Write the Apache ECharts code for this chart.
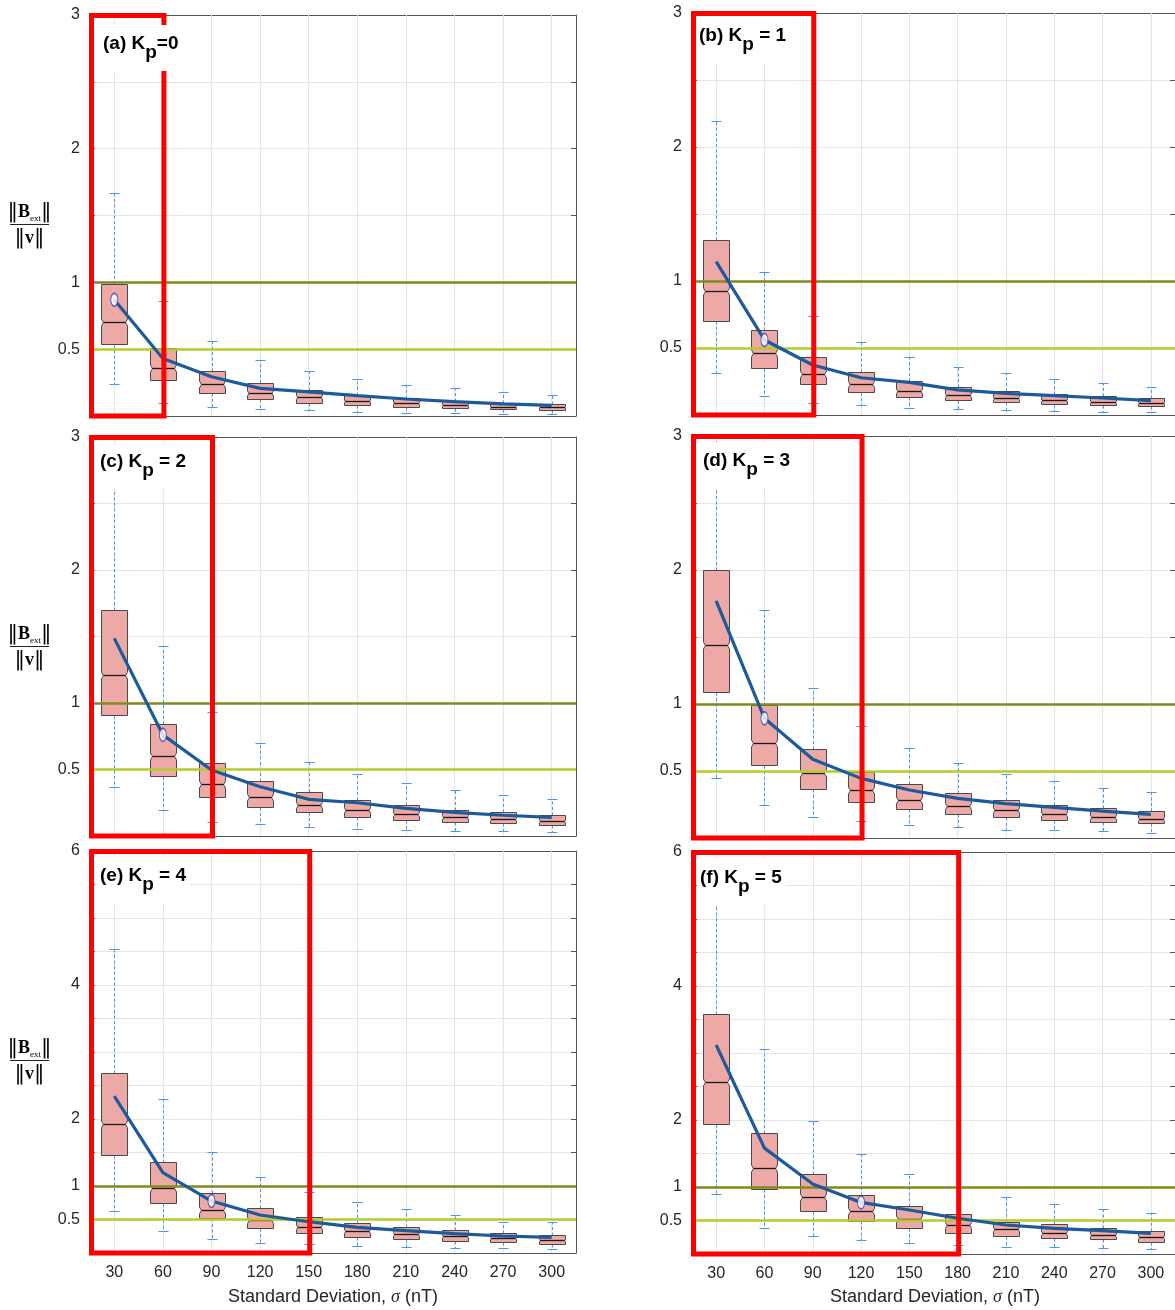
<!DOCTYPE html>
<html>
<head>
<meta charset="utf-8">
<script src="https://cdn.jsdelivr.net/npm/echarts@6/dist/echarts.min.js"></script>
<style>
html,body{margin:0;padding:0;background:#fff;}
#c{width:1175px;height:1310px;}
</style>
</head>
<body>
<div id="c"></div>
<script>
// ---------------- DATA ----------------
const categories = ['30','60','90','120','150','180','210','240','270','300'];

// box stats per category: [lower whisker, Q1, median, Q3, upper whisker]
const statsA = [[0.24,0.54,0.706,0.99,1.67],[0.10,0.27,0.357,0.507,0.86],[0.07,0.175,0.237,0.337,0.564],[0.05,0.127,0.17,0.245,0.42],[0.043,0.10,0.145,0.195,0.335],[0.03,0.08,0.115,0.16,0.277],[0.022,0.07,0.095,0.137,0.235],[0.02,0.057,0.085,0.115,0.207],[0.015,0.05,0.07,0.10,0.18],[0.013,0.045,0.07,0.092,0.16]];
const statsB = [[0.31,0.70,0.928,1.306,2.196],[0.144,0.348,0.46,0.634,1.065],[0.087,0.23,0.306,0.43,0.739],[0.075,0.17,0.229,0.319,0.543],[0.052,0.137,0.179,0.256,0.435],[0.042,0.112,0.149,0.211,0.356],[0.037,0.095,0.129,0.181,0.311],[0.03,0.082,0.112,0.157,0.271],[0.025,0.072,0.10,0.142,0.241],[0.02,0.065,0.09,0.125,0.211]];
const statsC = [[0.37,0.91,1.21,1.70,2.88],[0.195,0.45,0.60,0.842,1.43],[0.108,0.296,0.39,0.55,0.935],[0.088,0.22,0.296,0.414,0.70],[0.07,0.178,0.235,0.33,0.56],[0.053,0.14,0.195,0.271,0.468],[0.048,0.12,0.165,0.23,0.398],[0.04,0.105,0.14,0.198,0.343],[0.038,0.095,0.125,0.18,0.306],[0.028,0.083,0.115,0.16,0.276]];
const statsD = [[0.45,1.092,1.44,2.0,3.3],[0.246,0.545,0.711,0.99,1.70],[0.154,0.363,0.483,0.662,1.117],[0.13,0.271,0.358,0.495,0.836],[0.095,0.216,0.284,0.40,0.669],[0.082,0.179,0.239,0.336,0.561],[0.06,0.154,0.206,0.284,0.48],[0.062,0.134,0.179,0.25,0.425],[0.055,0.122,0.159,0.221,0.376],[0.04,0.11,0.144,0.204,0.341]];
const statsE = [[0.62,1.46,1.92,2.69,4.53],[0.333,0.74,0.966,1.36,2.30],[0.21,0.518,0.642,0.89,1.51],[0.154,0.368,0.49,0.672,1.13],[0.13,0.294,0.393,0.537,0.915],[0.109,0.243,0.328,0.448,0.757],[0.09,0.209,0.284,0.388,0.652],[0.075,0.184,0.249,0.338,0.567],[0.07,0.16,0.219,0.299,0.468],[0.06,0.139,0.194,0.269,0.463]];
const statsF = [[0.90,1.94,2.57,3.58,5.9],[0.384,0.966,1.28,1.80,3.06],[0.274,0.647,0.846,1.19,1.99],[0.209,0.497,0.647,0.88,1.49],[0.169,0.383,0.517,0.716,1.20],[0.134,0.318,0.433,0.592,1.0],[0.109,0.274,0.368,0.473,0.855],[0.10,0.239,0.318,0.443,0.746],[0.095,0.219,0.289,0.393,0.667],[0.07,0.184,0.254,0.348,0.607]];

// mean curves
const meanA = [0.87,0.43,0.294,0.207,0.18,0.152,0.127,0.107,0.09,0.08];
const meanB = [1.144,0.56,0.373,0.278,0.244,0.187,0.162,0.144,0.127,0.107];
const meanC = [1.486,0.76,0.496,0.37,0.276,0.25,0.208,0.178,0.156,0.14];
const meanD = [1.77,0.893,0.587,0.445,0.358,0.296,0.256,0.228,0.20,0.177];
const meanE = [2.34,1.20,0.776,0.567,0.467,0.383,0.333,0.288,0.254,0.234];
const meanF = [3.12,1.58,1.045,0.77,0.657,0.533,0.433,0.383,0.348,0.309];

// index of the highlighted (white ellipse) point in each panel
const markerIndex = [0,1,1,1,2,3];
// category index at which each red highlight frame ends
const highlightEnd = [1,2,2,3,4,5];
// reference levels
const refLevels = [1, 0.5];
// y tick labels
const yLabelsSmall = [0.5,1,2,3];
const yLabelsLarge = [0.5,1,2,4,6];
const yMaxSmall = 3, yMaxLarge = 6;
const panelLetters = ['(a)','(b)','(c)','(d)','(e)','(f)'];
const kpLabels = ['=0',' = 1',' = 2',' = 3',' = 4',' = 5'];
const xAxisTitle = ['Standard Deviation, ','σ',' (nT)'];

// ---------------- STYLE / LAYOUT ----------------
const FONT = '"Liberation Sans", Arial, Helvetica, sans-serif';
const SERIF = '"Liberation Serif", "Times New Roman", serif';
const BARFONT = '"DejaVu Serif", "Liberation Serif", serif';
const AX = '#555555';
const GRID = '#e4e4e4';
const BOX_FILL = '#eda9a6';
const BOX_EDGE = '#4a4a4a';
const WHISK = '#4a95ee';
const MEAN = '#1c5a9c';
const OLIVE = '#7f8c1d';
const YGREEN = '#b6cb2a';
const PW = 486;
const layouts = [
  {left:90, top:15, height:401, tx:103, ty:34},
  {left:692, top:13, height:402, tx:699, ty:26},
  {left:90, top:437, height:399, tx:100, ty:452},
  {left:692, top:436, height:402, tx:703, ty:451},
  {left:90, top:851, height:402, tx:100, ty:866},
  {left:692, top:852, height:402, tx:700, ty:868}
];
const allStats = [statsA,statsB,statsC,statsD,statsE,statsF];
const allMeans = [meanA,meanB,meanC,meanD,meanE,meanF];

const chart = echarts.init(document.getElementById('c'));

const grids=[], xAxes=[], yAxes=[], series=[];
const snap = v => Math.round(v) + 0.5;

function makeBoxRender(yMax){
  return function(params, api){
    const idx = api.value(0);
    const lo = api.value(1), q1 = api.value(2), med = api.value(3), q3 = api.value(4), hi = api.value(5);
    const band = api.size([1,0])[0];
    const hw = Math.round(band*0.26);
    const pm = api.coord([idx, med]);
    const x = snap(pm[0]), ym = snap(pm[1]);
    const y1 = snap(api.coord([idx, q1])[1]);
    const y3 = snap(api.coord([idx, q3])[1]);
    const yl = snap(api.coord([idx, lo])[1]);
    const yh = snap(api.coord([idx, Math.min(hi, yMax)])[1]);
    const nd = Math.min(3.5, (y1-y3)*0.16), nk = nd*0.55, cw = 5;
    const children = [
      {type:'line', shape:{x1:x,y1:y3,x2:x,y2:yh}, style:{stroke: WHISK, lineWidth: 1, lineDash: [3,2.5], fill: null}},
      {type:'line', shape:{x1:x,y1:y1,x2:x,y2:yl}, style:{stroke: WHISK, lineWidth: 1, lineDash: [3,2.5], fill: null}},
      {type:'line', shape:{x1:x-cw,y1:yl,x2:x+cw,y2:yl}, style:{stroke: WHISK, lineWidth: 1, fill: null}}
    ];
    if (hi <= yMax) children.push({type:'line', shape:{x1:x-cw,y1:yh,x2:x+cw,y2:yh}, style:{stroke: WHISK, lineWidth: 1, fill: null}});
    const L = x-hw, R = x+hw;
    children.push({type:'polygon', shape:{points:[[L,y3],[R,y3],[R,ym-nd],[R-nk,ym],[R,ym+nd],[R,y1],[L,y1],[L,ym+nd],[L+nk,ym],[L,ym-nd]]},
      style:{fill:BOX_FILL, stroke:BOX_EDGE, lineWidth:1}});
    children.push({type:'line', shape:{x1:L+nk,y1:ym,x2:R-nk,y2:ym}, style:{stroke:'#1a1a1a', lineWidth:1.3}});
    return {type:'group', children};
  };
}

layouts.forEach((L, i) => {
  const large = i >= 4;
  const yMax = large ? yMaxLarge : yMaxSmall;
  const labels = large ? yLabelsLarge : yLabelsSmall;
  grids.push({left:L.left, top:L.top, width:PW, height:L.height, containLabel:false});
  const axLine = {show:true, onZero:false, lineStyle:{color:AX, width:1}};
  const axTick = {show:true, inside:true, alignWithLabel:true, length:5, lineStyle:{color:AX, width:1}};
  xAxes.push({gridIndex:i, type:'category', data:categories, boundaryGap:true, position:'bottom',
    axisLine:axLine, axisTick:axTick,
    axisLabel:{show:large, interval:0, margin:12, color:'#262626', fontSize:16, fontFamily:FONT},
    splitLine:{show:false}});
  xAxes.push({gridIndex:i, type:'category', data:categories, boundaryGap:true, position:'top',
    axisLine:axLine, axisTick:axTick, axisLabel:{show:false}, splitLine:{show:false}});
  yAxes.push({gridIndex:i, type:'value', min:0, max:yMax, interval:0.5, position:'left',
    axisLine:axLine, axisTick:{show:true, inside:true, length:5, lineStyle:{color:AX}},
    axisLabel:{show:true, margin:10, color:'#262626', fontSize:16, fontFamily:FONT, showMinLabel:true, showMaxLabel:true,
      formatter:(v)=> labels.some(t=>Math.abs(t-v)<1e-9) ? String(v) : ''},
    splitLine:{show:true, lineStyle:{color:GRID, width:1}}});
  yAxes.push({gridIndex:i, type:'value', min:0, max:yMax, interval:0.5, position:'right',
    axisLine:axLine, axisTick:{show:true, inside:true, length:5, lineStyle:{color:AX}},
    axisLabel:{show:false}, splitLine:{show:false}});
  const xi = 2*i, yi = 2*i;
  // vertical grid lines at category centres
  series.push({type:'line', xAxisIndex:xi, yAxisIndex:yi, data:[], z:1, silent:true,
    markLine:{z:1, silent:true, symbol:['none','none'], label:{show:false}, animation:false,
      lineStyle:{color:GRID, type:'solid', width:1},
      data: categories.map(c=>({xAxis:c}))}});
  // boxes
  series.push({type:'custom', xAxisIndex:xi, yAxisIndex:yi, z:3, silent:true,
    renderItem: makeBoxRender(yMax),
    encode:{x:0, y:[1,2,3,4,5]},
    data: allStats[i].map((s,k)=>[k].concat(s))});
  // reference lines
  series.push({type:'line', xAxisIndex:xi, yAxisIndex:yi, data:[], z:4, silent:true,
    markLine:{z:4, silent:true, symbol:['none','none'], label:{show:false}, animation:false,
      data: refLevels.map((v,k)=>({yAxis:v, lineStyle:{color: k===0?OLIVE:YGREEN, width:2.5, type:'solid'}}))}});
  // mean curve
  series.push({type:'line', xAxisIndex:xi, yAxisIndex:yi, data:allMeans[i], z:5, silent:true,
    symbol:'none', lineStyle:{color:MEAN, width:3.2}, smooth:false});
  // highlighted point
  const mi = markerIndex[i];
  series.push({type:'scatter', xAxisIndex:xi, yAxisIndex:yi, z:6, silent:true,
    data:[[mi, allMeans[i][mi]]], symbol:'circle', symbolSize:[7,13],
    itemStyle:{color:'#ffffff', borderColor:'#2a3fb8', borderWidth:1.2}});
});

chart.setOption({
  animation:false,
  backgroundColor:'#ffffff',
  grid:grids, xAxis:xAxes, yAxis:yAxes, series:series
});

// ---------- annotations ----------
const graphics = [];
layouts.forEach((L, i) => {
  const finder = {xAxisIndex:2*i, yAxisIndex:2*i};
  const yMax = i>=4 ? yMaxLarge : yMaxSmall;
  const p0 = chart.convertToPixel(finder, [0, yMax]);
  const p1 = chart.convertToPixel(finder, [1, 0]);
  const pe = chart.convertToPixel(finder, [highlightEnd[i], 0]);
  const band = p1[0]-p0[0];
  const x0 = p0[0]-band/2 + 1.5, y0 = p0[1] + 0.5, x1 = pe[0] + 1, y1 = p1[1];
  graphics.push({type:'rect', z:100, silent:true,
    shape:{x:x0, y:y0, width:x1-x0, height:y1-y0},
    style:{fill:'none', stroke:'#ff0000', lineWidth:5}});
  // panel title
  graphics.push({type:'text', z:110, silent:true, x:L.tx-3, y:L.ty-9,
    style:{text:'{t|'+panelLetters[i]+' K}{p|p}{t|'+kpLabels[i]+'}',
      backgroundColor:'#ffffff', padding:[9,4,0,3],
      rich:{
        t:{font:'bold 19px '+FONT, fill:'#000', lineHeight:21, verticalAlign:'top'},
        p:{font:'bold 19px '+FONT, fill:'#000', lineHeight:37, verticalAlign:'middle'}
      }}});
  // y-axis label fraction (left column)
  if (i % 2 === 0) {
    const cx = 29.5, top = L.top;
    graphics.push({type:'text', z:110, silent:true, x:cx, y:top+197,
      style:{text:'{bar|‖}{n|B}{s|ext}{bar|‖}', align:'center', verticalAlign:'middle', textAlign:'center', textVerticalAlign:'middle',
        rich:{
          bar:{font:'21px '+BARFONT, fill:'#000', lineHeight:22, verticalAlign:'middle'},
          n:{font:'bold 18px '+SERIF, fill:'#000', lineHeight:22, verticalAlign:'middle'},
          s:{font:'9px '+SERIF, fill:'#000', lineHeight:12, verticalAlign:'bottom'}
        }}});
    graphics.push({type:'line', z:110, silent:true, shape:{x1:10, y1:top+209.5, x2:49, y2:top+209.5},
      style:{stroke:'#222', lineWidth:1.2}});
    graphics.push({type:'text', z:110, silent:true, x:cx, y:top+223,
      style:{text:'{bar|‖}{n|v}{bar|‖}', align:'center', verticalAlign:'middle', textAlign:'center', textVerticalAlign:'middle',
        rich:{
          bar:{font:'21px '+BARFONT, fill:'#000', lineHeight:22, verticalAlign:'middle'},
          n:{font:'bold 18px '+SERIF, fill:'#000', lineHeight:22, verticalAlign:'middle'}
        }}});
  }
  if (i >= 4) {
    graphics.push({type:'text', z:110, silent:true, x:L.left+PW/2, y:1297,
      style:{text:'{t|'+xAxisTitle[0]+'}{s|'+xAxisTitle[1]+'}{t|'+xAxisTitle[2]+'}',
        align:'center', verticalAlign:'middle', textAlign:'center', textVerticalAlign:'middle',
        rich:{
          t:{font:'18px '+FONT, fill:'#262626'},
          s:{font:'italic 18px '+SERIF, fill:'#262626'}
        }}});
  }
});
chart.setOption({graphic:{elements:graphics}});
</script>
</body>
</html>
